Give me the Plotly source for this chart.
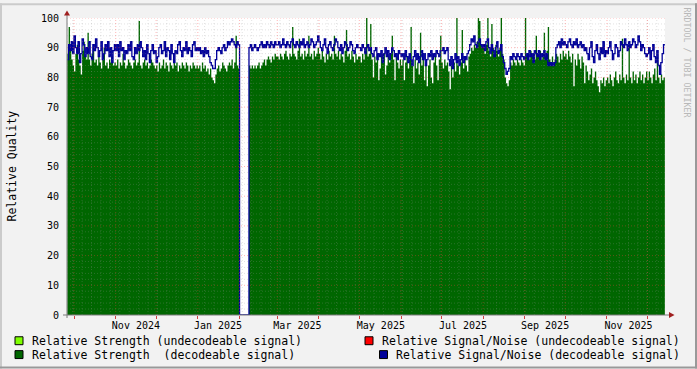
import pandas as pd
import plotly.graph_objects as go

# ---------------- data (daily values) ----------------
start_date = "2024-09-26"

strength = [
    # Sep 26-30 2024
    88, 97, 90, 86, 84,
    # Oct 2024
    82, 88, 91, 86, 84, 81, 89, 92, 87, 86, 95, 86, 84, 88, 90, 85, 86, 84, 87, 85, 83, 86, 90, 84, 85, 83, 86, 85, 87, 84, 85,
    # Nov 2024
    84, 86, 83, 85, 84, 88, 85, 83, 84, 86, 85, 84, 83, 85, 86, 84, 85, 99, 84, 83, 85, 86, 84, 85, 83, 84, 86, 85, 84, 83,
    # Dec 2024
    84, 82, 85, 83, 84, 86, 83, 85, 84, 82, 85, 84, 83, 86, 84, 85, 82, 84, 83, 85, 84, 83, 85, 84, 82, 84, 83, 85, 84, 83, 84,
    # Jan 2025
    83, 84, 82, 85, 83, 84, 82, 83, 81, 83, 80, 79, 78, 81, 83, 84, 82, 83, 85, 84, 83, 82, 84, 85, 84, 86, 83, 85, 94, 84, 83,
    # Feb 2025
    0, 0, 0, 0, 0, 0, 0, 84, 83, 84, 83, 84, 83, 84, 85, 83, 84, 85, 86, 84, 86, 87, 86, 85, 87, 86, 88, 87,
    # Mar 2025
    87, 86, 88, 87, 86, 88, 89, 87, 86, 88, 87, 97, 88, 87, 86, 89, 93, 87, 88, 86, 89, 87, 88, 94, 87, 88, 86, 89, 87, 88, 90,
    # Apr 2025
    88, 86, 89, 87, 85, 88, 86, 89, 87, 88, 86, 94, 88, 87, 89, 86, 88, 87, 85, 89, 96, 87, 88, 86, 89, 87, 85, 88, 86, 87,
    # May 2025
    87, 85, 88, 86, 89, 100, 87, 88, 98, 86, 80, 87, 85, 88, 79, 83, 87, 85, 88, 81, 84, 87, 85, 88, 94, 86, 79, 87, 85, 83, 86,
    # Jun 2025
    84, 86, 79, 85, 87, 83, 86, 97, 84, 78, 86, 83, 85, 81, 95, 84, 86, 79, 85, 77, 84, 86, 80, 78, 85, 87, 84, 79, 86, 94,
    # Jul 2025
    85, 83, 86, 84, 85, 82, 76, 84, 80, 85, 82, 100, 84, 81, 85, 96, 83, 86, 84, 82, 87, 88, 90, 89, 91, 90, 92, 100, 99, 91, 90,
    # Aug 2025
    90, 88, 91, 100, 89, 87, 98, 90, 88, 91, 89, 87, 90, 100, 88, 86, 80, 78, 77, 79, 85, 84, 86, 85, 84, 86, 85, 84, 86, 85, 84,
    # Sep 2025
    100, 87, 88, 86, 89, 87, 88, 86, 94, 88, 87, 89, 86, 88, 95, 87, 89, 97, 86, 85, 87, 84, 86, 88, 87, 85, 88, 86, 89, 87,
    # Oct 2025
    88, 86, 89, 87, 85, 88, 77, 86, 84, 88, 86, 83, 87, 85, 78, 84, 82, 79, 81, 83, 78, 80, 82, 79, 77, 75, 79, 78, 80, 77, 79,
    # Nov 2025
    80, 78, 81, 79, 77, 80, 82, 79, 78, 81, 79, 93, 80, 78, 81, 79, 91, 80, 78, 82, 79, 81, 78, 80, 82, 79, 81, 78, 80, 82,
    # Dec 1-13 2025
    79, 82, 80, 78, 81, 83, 79, 87, 80, 78, 81, 79, 80,
]

snr = [
    # Sep 26-30 2024
    86, 91, 89, 92, 88,
    # Oct 2024
    94, 90, 88, 92, 85, 88, 93, 91, 87, 90, 88, 92, 87, 86, 91, 89, 93, 90, 87, 89, 92, 86, 88, 91, 89, 92, 87, 90, 85, 89, 91,
    # Nov 2024
    89, 91, 87, 92, 89, 90, 86, 89, 88, 91, 89, 92, 87, 86, 90, 88, 91, 89, 92, 90, 87, 89, 86, 91, 88, 85, 89, 91, 88, 89,
    # Dec 2024
    85, 87, 90, 91, 88, 89, 92, 87, 90, 89, 86, 91, 88, 85, 89, 88, 91, 92, 89, 87, 90, 89, 92, 88, 90, 89, 87, 91, 92, 89, 90,
    # Jan 2025
    89, 90, 88, 89, 87, 90, 88, 89, 87, 85, 84, 83, 83, 86, 89, 90, 89, 88, 90, 91, 89, 90, 92, 91, 92, 93, 92, 91, 90, 92, 91,
    # Feb 2025
    0, 0, 0, 0, 0, 0, 0, 90, 91, 89, 90, 91, 90, 89, 90, 91, 92, 90, 91, 90, 92, 91, 90, 92, 91, 90, 92, 91,
    # Mar 2025
    91, 92, 90, 91, 93, 91, 90, 92, 91, 90, 92, 93, 91, 90, 92, 91, 90, 92, 91, 93, 90, 91, 92, 90, 91, 93, 92, 90, 91, 92, 94,
    # Apr 2025
    92, 90, 89, 91, 93, 90, 88, 91, 92, 90, 89, 91, 93, 92, 90, 89, 91, 88, 90, 92, 91, 89, 90, 92, 91, 89, 88, 90, 91, 90,
    # May 2025
    90, 89, 91, 90, 88, 90, 91, 89, 90, 88, 87, 89, 90, 86, 88, 87, 89, 85, 88, 90, 87, 89, 86, 88, 90, 89, 87, 88, 86, 89, 88,
    # Jun 2025
    87, 88, 86, 89, 87, 85, 88, 86, 84, 87, 89, 86, 88, 85, 87, 89, 86, 88, 84, 86, 88, 87, 89, 86, 88, 87, 89, 88, 87, 89,
    # Jul 2025
    89, 90, 88, 89, 90, 86, 84, 87, 83, 86, 88, 85, 87, 84, 86, 88, 85, 87, 86, 88, 89, 91, 93, 92, 94, 91, 90, 92, 93, 91, 90,
    # Aug 2025
    91, 89, 92, 93, 90, 88, 91, 89, 87, 90, 92, 88, 89, 91, 87, 85, 83, 81, 82, 83, 87, 86, 88, 87, 86, 88, 87, 86, 88, 87, 86,
    # Sep 2025
    87, 88, 86, 89, 87, 88, 85, 89, 88, 87, 89, 86, 88, 87, 89, 86, 88, 84, 85, 84, 85, 84, 85, 90, 91, 92, 90, 93, 91, 92,
    # Oct 2025
    91, 90, 92, 93, 91, 90, 92, 91, 93, 90, 91, 92, 90, 91, 89, 90, 88, 86, 90, 92, 87, 85, 89, 91, 88, 86, 90, 88, 92, 87, 89,
    # Nov 2025
    88, 90, 92, 89, 86, 88, 91, 90, 87, 89, 92, 91, 90, 93, 91, 89, 92, 90, 91, 93, 92, 90, 91, 94, 92, 89, 91, 90, 88, 87,
    # Dec 1-13 2025
    88, 90, 86, 89, 91, 87, 85, 89, 84, 81, 85, 88, 91,
]

tick_labels = ["Nov 2024", "Jan 2025", "Mar 2025", "May 2025", "Jul 2025", "Sep 2025", "Nov 2025"]
tick_dates = ["2024-11-16", "2025-01-16", "2025-03-16", "2025-05-17", "2025-07-17", "2025-09-16", "2025-11-17"]
y_ticks = list(range(0, 101, 10))

legend_names = [
    "Relative Strength (undecodeable signal)",
    "Relative Strength  (decodeable signal)",
    "Relative Signal/Noise (undecodeable signal)",
    "Relative Signal/Noise (decodeable signal)",
]
legend_colors = ["#7FFF00", "#006600", "#FF0000", "#000099"]

x_range = ["2024-09-25 19:00", "2025-12-14 02:30"]

# ---------------- layout helpers ----------------
W, H = 697, 369
L, R, T, B = 67, 32, 15, 54
PW, PH = W - L - R, H - T - B


def px(x):
    return (x - L) / PW


def py(y):
    return (H - B - y) / PH


FONT = "DejaVu Sans Mono"

dates = pd.date_range(start_date, periods=len(strength), freq="D")
xs = list(dates) + [dates[-1] + pd.Timedelta(days=1)]
g_vals = strength + [strength[-1]]
s_vals = snr + [snr[-1]]

fig = go.Figure()
fig.add_trace(go.Scatter(
    x=xs, y=g_vals, mode="lines",
    line=dict(width=0, shape="hv", color="#006600"),
    fill="tozeroy", fillcolor="#006600",
    showlegend=False, hoverinfo="skip",
))
fig.add_trace(go.Scatter(
    x=xs, y=s_vals, mode="lines",
    line=dict(width=1.3, shape="hv", color="#000099"),
    showlegend=False,
))

shapes = []
MINOR = "rgba(150,150,150,0.28)"
MAJOR = "rgba(255,60,60,0.38)"
DASH = "1px,2px"

# horizontal grid (above traces, like rrdtool)
for v in range(2, 101, 2):
    shapes.append(dict(type="line", xref="paper", yref="y", x0=0, x1=1, y0=v, y1=v,
                       line=dict(color=MAJOR if v % 10 == 0 else MINOR, width=1, dash=DASH),
                       layer="above"))
# vertical grid: weekly minor, monthly major
for d in pd.date_range("2024-09-30", "2025-12-14", freq="W-MON"):
    shapes.append(dict(type="line", xref="x", yref="paper", x0=d, x1=d, y0=0, y1=1,
                       line=dict(color=MINOR, width=1, dash=DASH), layer="above"))
for d in pd.date_range("2024-10-01", "2025-12-14", freq="MS"):
    shapes.append(dict(type="line", xref="x", yref="paper", x0=d, x1=d, y0=0, y1=1,
                       line=dict(color=MAJOR, width=1, dash=DASH), layer="above"))

# axis lines and arrows
AX = "#7a7a7a"
ARROW = "#a02020"
shapes.append(dict(type="line", xref="paper", yref="paper", x0=px(67), x1=px(67), y0=py(318), y1=py(11),
                   line=dict(color=AX, width=1), layer="above"))
shapes.append(dict(type="line", xref="paper", yref="paper", x0=px(63), x1=px(670), y0=py(315), y1=py(315),
                   line=dict(color=AX, width=1), layer="above"))
shapes.append(dict(type="path", xref="paper", yref="paper",
                   path=f"M {px(64)} {py(12.5)} L {px(70)} {py(12.5)} L {px(67)} {py(7.5)} Z",
                   fillcolor=ARROW, line=dict(color=ARROW, width=0), layer="above"))
shapes.append(dict(type="path", xref="paper", yref="paper",
                   path=f"M {px(669)} {py(312)} L {px(669)} {py(318)} L {px(674.5)} {py(315)} Z",
                   fillcolor=ARROW, line=dict(color=ARROW, width=0), layer="above"))

# frame shading
shapes.append(dict(type="rect", xref="paper", yref="paper", x0=px(0), x1=px(W), y0=py(0), y1=py(2),
                   fillcolor="#CBCBCB", line=dict(width=0)))
shapes.append(dict(type="rect", xref="paper", yref="paper", x0=px(0), x1=px(2), y0=py(0), y1=py(H),
                   fillcolor="#CBCBCB", line=dict(width=0)))
shapes.append(dict(type="rect", xref="paper", yref="paper", x0=px(0), x1=px(W), y0=py(H - 2), y1=py(H),
                   fillcolor="#999999", line=dict(width=0)))
shapes.append(dict(type="rect", xref="paper", yref="paper", x0=px(W - 2), x1=px(W), y0=py(0), y1=py(H),
                   fillcolor="#999999", line=dict(width=0)))

# legend boxes + text
legend_pos = [(15, 341, 30), (15, 355, 30), (365, 341, 380), (379.5, 355, 394)]
annotations = []
for name, col, (bx, by, tx) in zip(legend_names, legend_colors, legend_pos):
    shapes.append(dict(type="rect", xref="paper", yref="paper",
                       x0=px(bx), x1=px(bx + 8), y0=py(by - 4), y1=py(by + 4),
                       fillcolor=col, line=dict(color="#000000", width=1)))
    annotations.append(dict(text=name, xref="paper", yref="paper", x=px(tx), y=py(by),
                            xanchor="left", yanchor="middle", showarrow=False,
                            font=dict(family=FONT, size=11.5, color="#000000")))

annotations.append(dict(text="Relative Quality", xref="paper", yref="paper", x=px(11), y=py(165),
                        xanchor="center", yanchor="middle", textangle=-90, showarrow=False,
                        font=dict(family=FONT, size=11.5, color="#000000")))
annotations.append(dict(text="RRDTOOL / TOBI OETIKER", xref="paper", yref="paper", x=px(687), y=py(60),
                        xanchor="center", yanchor="middle", textangle=90, showarrow=False,
                        font=dict(family=FONT, size=8.3, color="#b8b8b8")))

fig.update_layout(
    width=W, height=H, autosize=False,
    margin=dict(l=L, r=R, t=T, b=B, pad=0),
    paper_bgcolor="#F2F2F2", plot_bgcolor="#FFFFFF",
    showlegend=False,
    shapes=shapes, annotations=annotations,
    font=dict(family=FONT, color="#000000"),
    xaxis=dict(
        type="date", range=x_range, tickmode="array", tickvals=tick_dates, ticktext=tick_labels,
        showgrid=False, zeroline=False, showline=False, ticks="",
        tickfont=dict(family=FONT, size=10, color="#000000"),
        minor=dict(ticks="outside", ticklen=3, tickcolor="#d04040", dtick="M1", tick0="2024-10-01", showgrid=False),
        ticklabelstandoff=3,
    ),
    yaxis=dict(
        range=[0, 100], tickmode="array", tickvals=y_ticks,
        showgrid=False, zeroline=False, showline=False, ticks="",
        tickfont=dict(family=FONT, size=10, color="#000000"),
        ticklabelstandoff=7,
    ),
)

fig.write_html(
    "out.html",
    config={"displayModeBar": False},
    post_script="document.body.style.margin='0';document.body.style.padding='0';document.body.style.overflow='hidden';",
)
